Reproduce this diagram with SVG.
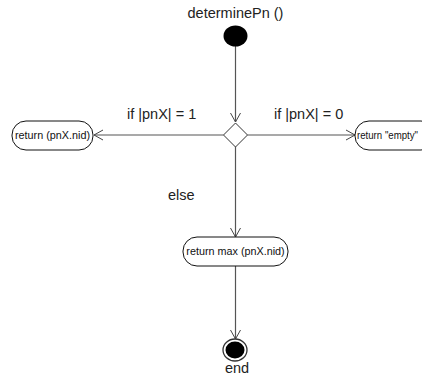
<svg xmlns="http://www.w3.org/2000/svg" width="422" height="380" viewBox="0 0 422 380">
<defs>
<style>
.t{font-family:"Liberation Sans",Arial,sans-serif;font-size:14.5px;fill:#222}
.n{font-family:"Liberation Sans",Arial,sans-serif;font-size:10.8px;fill:#111}
.node{fill:#fff;stroke:#111;stroke-width:1}
.c{stroke:#555;stroke-width:1.2;fill:none}
</style>
<marker id="a" markerWidth="12" markerHeight="12" refX="10" refY="6" orient="auto" markerUnits="userSpaceOnUse">
<path d="M1,1 L10,6 L1,11" fill="none" stroke="#444" stroke-width="1"/>
</marker>
</defs>
<rect width="422" height="380" fill="#fff"/>
<g id="connectors">
<line class="c" x1="235.5" y1="46" x2="235.5" y2="122" marker-end="url(#a)"/>
<line class="c" x1="223.5" y1="135" x2="94" y2="135" marker-end="url(#a)"/>
<line class="c" x1="247.5" y1="135" x2="355" y2="135" marker-end="url(#a)"/>
<line class="c" x1="235.5" y1="147" x2="235.5" y2="237" marker-end="url(#a)"/>
<line class="c" x1="235.5" y1="266" x2="235.5" y2="339" marker-end="url(#a)"/>
<text class="t" x="127" y="119">if |pnX| = 1</text>
<text class="t" x="274" y="119">if |pnX| = 0</text>
<text class="t" x="168" y="200">else</text>
</g>
<g id="start">
<text class="t" x="235.5" y="18" text-anchor="middle">determinePn ()</text>
<ellipse cx="235.5" cy="36" rx="12" ry="10.5" fill="#000"/>
</g>
<g id="decision">
<path d="M235.5,123 L247.5,135 L235.5,147 L223.5,135 Z" fill="#fff" stroke="#333" stroke-width="1"/>
</g>
<g id="return-nid">
<rect class="node" x="12" y="121" width="81" height="29" rx="14" ry="14"/>
<text class="n" x="52.5" y="139" text-anchor="middle">return (pnX.nid)</text>
</g>
<g id="return-empty">
<rect class="node" x="355" y="121" width="80" height="29" rx="14" ry="14"/>
<text class="n" x="357" y="139" textLength="61" lengthAdjust="spacingAndGlyphs">return "empty"</text>
</g>
<g id="return-max">
<rect class="node" x="183" y="237" width="105" height="29" rx="14" ry="14"/>
<text class="n" x="235.5" y="255" text-anchor="middle">return max (pnX.nid)</text>
</g>
<g id="end">
<ellipse cx="235" cy="350" rx="12" ry="11" fill="#fff" stroke="#333" stroke-width="1.3"/>
<ellipse cx="235" cy="350" rx="9.5" ry="8.5" fill="#000"/>
<text class="t" x="237" y="373" text-anchor="middle">end</text>
</g>
</svg>
